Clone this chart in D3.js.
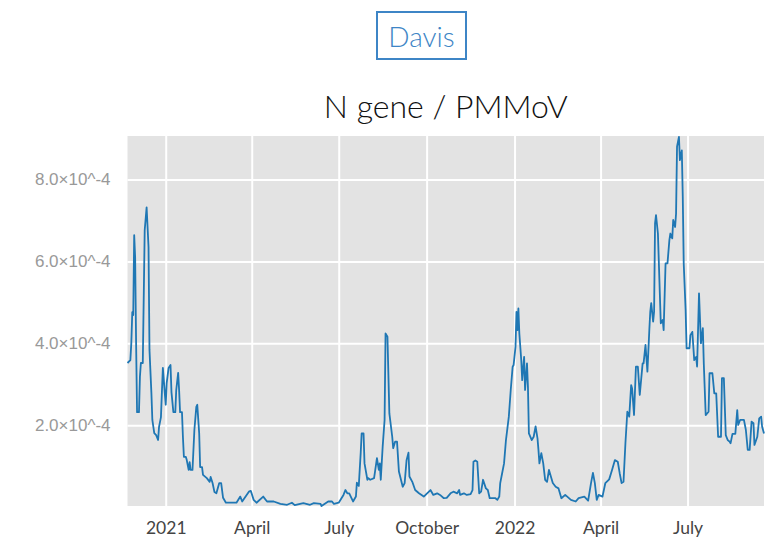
<!DOCTYPE html>
<html>
<head>
<meta charset="utf-8">
<script src="https://cdn.jsdelivr.net/npm/d3@7"></script>
<style>
    body { margin: 0; background: #fff; }
    #chart { width: 774px; height: 539px; position: relative; }
    .site-btn {
        position: absolute; left: 376px; top: 11px; width: 87px; height: 45px;
        border: 2px solid #3d85c6; color: #3d85c6;
        font-family: Lato, "Open Sans", sans-serif; font-size: 28px; font-weight: 300;
        display: flex; align-items: center; justify-content: center;
    }
    .grid line { stroke: #fff; stroke-width: 2; }
</style>
</head>
<body>
<div id="chart"><div class="site-btn">Davis</div></div>
<script>
// days since 2021-01-01, and N gene / PMMoV ratio in units of 1e-4
const baseDate = new Date(2021, 0, 1);
const dayOffsets = [
    -40, -37, -36, -35, -34, -33, -32, -31, -30, -28, -27, -26, -24, -22, -20, -18, -17, -15, -14, -12,
    -10, -8, -7, -5, -4, -3, -1, 0, 1, 3, 5, 6, 8, 10, 11, 13, 14, 15, 17, 18,
    19, 21, 22, 24, 25, 26, 28, 30, 32, 33, 35, 36, 38, 39, 43, 46, 47, 49, 51, 53,
    56, 58, 60, 63, 74, 78, 80, 87, 89, 92, 95, 102, 106, 113, 120, 127, 132, 135, 144, 151,
    155, 162, 163, 170, 174, 176, 181, 186, 188, 190, 192, 196, 199, 200, 202, 204, 205, 207, 208, 211,
    212, 214, 218, 219, 221, 223, 224, 225, 227, 229, 230, 232, 234, 237, 238, 240, 242, 244, 248, 250,
    252, 254, 255, 258, 261, 265, 270, 277, 280, 284, 287, 291, 294, 298, 301, 305, 307, 308, 312, 315,
    319, 321, 322, 324, 326, 328, 330, 332, 335, 337, 339, 345, 347, 349, 350, 352, 354, 356, 359, 361,
    363, 364, 366, 367, 368, 369, 370, 372, 373, 375, 376, 378, 379, 380, 383, 385, 387, 389, 390, 391,
    393, 395, 397, 399, 401, 403, 405, 408, 411, 414, 418, 424, 429, 432, 438, 442, 445, 447, 449, 451,
    453, 457, 460, 464, 467, 470, 473, 475, 477, 479, 481, 483, 485, 487, 488, 490, 492, 494, 496, 499,
    500, 502, 504, 506, 507, 508, 510, 511, 512, 513, 515, 518, 520, 521, 523, 525, 527, 528, 530, 531,
    533, 534, 535, 537, 538, 540, 541, 542, 544, 545, 548, 549, 551, 553, 555, 556, 558, 560, 562, 563,
    565, 568, 569, 572, 574, 576, 578, 581, 582, 584, 586, 588, 590, 591, 593, 596, 598, 599, 601, 605,
    607, 609, 611, 613, 615, 616, 619, 621, 623, 624, 626
];
const ratioValues = [
    3.52, 3.59, 4.01, 4.76, 4.69, 6.64, 6.10, 4.01, 2.32, 2.32, 3.18, 3.52, 3.52, 6.76, 7.32, 6.35, 3.84, 2.79, 2.13, 1.81,
    1.76, 1.64, 1.96, 2.20, 2.81, 3.40, 2.79, 2.50, 3.03, 3.40, 3.47, 2.81, 2.32, 2.32, 2.86, 3.28, 2.86, 2.32, 2.32, 1.71,
    1.23, 1.23, 1.15, 0.91, 1.10, 0.91, 0.91, 1.89, 2.45, 2.50, 1.81, 0.98, 0.98, 0.79, 0.71, 0.62, 0.74, 0.59, 0.37, 0.34,
    0.59, 0.59, 0.23, 0.11, 0.11, 0.26, 0.14, 0.38, 0.40, 0.18, 0.11, 0.26, 0.14, 0.14, 0.08, 0.06, 0.11, 0.05, 0.10, 0.06,
    0.10, 0.08, 0.03, 0.14, 0.14, 0.08, 0.11, 0.30, 0.42, 0.34, 0.34, 0.14, 0.26, 0.60, 0.52, 1.32, 1.80, 1.80, 1.07, 0.67,
    0.71, 0.67, 0.71, 0.87, 1.20, 0.91, 1.07, 0.67, 1.48, 2.13, 4.24, 4.16, 2.29, 1.72, 1.44, 1.60, 1.60, 0.87, 0.50, 0.59,
    1.15, 1.33, 0.75, 0.62, 0.42, 0.34, 0.26, 0.42, 0.30, 0.34, 0.30, 0.22, 0.23, 0.34, 0.38, 0.34, 0.42, 0.30, 0.34, 0.30,
    0.32, 0.42, 1.11, 1.14, 1.11, 0.34, 0.38, 0.67, 0.46, 0.42, 0.22, 0.22, 0.18, 0.26, 0.59, 0.83, 1.07, 1.64, 2.21, 2.86,
    3.43, 3.47, 3.92, 4.77, 4.32, 4.85, 4.24, 3.59, 3.10, 3.67, 2.86, 3.51, 2.94, 1.80, 1.64, 1.72, 1.97, 1.68, 1.40, 1.07,
    1.32, 1.07, 0.67, 0.62, 0.91, 0.75, 0.59, 0.50, 0.46, 0.22, 0.30, 0.18, 0.14, 0.22, 0.26, 0.16, 0.59, 0.84, 0.59, 0.18,
    0.30, 0.26, 0.59, 0.68, 0.91, 1.15, 1.11, 0.83, 0.59, 0.62, 1.56, 2.33, 2.21, 2.98, 2.90, 2.25, 3.43, 3.43, 2.74, 3.51,
    3.51, 3.96, 3.31, 4.32, 4.77, 4.98, 4.53, 4.77, 6.93, 7.13, 6.68, 4.49, 4.57, 4.32, 5.95, 5.95, 6.52, 6.68, 6.56, 7.01,
    6.84, 7.17, 8.80, 9.04, 8.47, 8.71, 7.58, 5.95, 4.81, 3.88, 3.88, 4.20, 4.28, 3.59, 3.67, 3.43, 5.22, 4.00, 4.37, 3.51,
    2.25, 2.33, 3.27, 3.27, 2.78, 2.78, 1.72, 1.72, 3.15, 3.15, 1.76, 1.64, 1.60, 1.56, 1.79, 1.79, 2.37, 2.01, 2.13, 2.13,
    1.89, 1.40, 1.40, 2.09, 2.05, 1.52, 1.72, 2.17, 2.21, 1.97, 1.80
];
const unit = 1e-4;
const yTicks = [2e-4, 4e-4, 6e-4, 8e-4];
const xTicks = ['2021-01-01', '2021-04-01', '2021-07-01', '2021-10-01', '2022-01-01', '2022-04-01', '2022-07-01'];
const xTickLabels = ['2021', 'April', 'July', 'October', '2022', 'April', 'July'];

const data = dayOffsets.map((d, i) => ({
    date: d3.timeDay.offset(baseDate, d),
    value: ratioValues[i] * unit
}));

const width = 774, height = 539;
const margin = { top: 136, right: 10, bottom: 33, left: 127.5 };
const w = width - margin.left - margin.right;
const h = height - margin.top - margin.bottom;

const svg = d3.select('#chart')
    .append('svg')
    .attr('width', width)
    .attr('height', height);

svg.append('text')
    .attr('x', margin.left + w / 2)
    .attr('y', 118)
    .attr('text-anchor', 'middle')
    .style('font-family', 'Lato, "Open Sans", sans-serif')
    .style('font-weight', 300)
    .style('font-size', '32px')
    .style('fill', '#111')
    .text('N gene / PMMoV');

const g = svg.append('g')
    .attr('transform', `translate(${margin.left},${margin.top})`);

g.append('rect')
    .attr('width', w)
    .attr('height', h)
    .attr('fill', '#e3e3e3');

const x = d3.scaleTime()
    .domain(d3.extent(data, d => d.date))
    .range([0, w]);

const y = d3.scaleLinear()
    .domain([0.03e-4, 9.06e-4])
    .range([h, 0]);

const xTickDates = xTicks.map(s => d3.timeParse('%Y-%m-%d')(s));

g.append('g')
    .attr('class', 'grid')
    .call(d3.axisBottom(x).tickValues(xTickDates).tickSize(h).tickFormat(''))
    .call(a => a.select('.domain').remove());

g.append('g')
    .attr('class', 'grid')
    .call(d3.axisLeft(y).tickValues(yTicks).tickSize(-w).tickFormat(''))
    .call(a => a.select('.domain').remove());

const line = d3.line()
    .x(d => x(d.date))
    .y(d => y(d.value));

g.append('path')
    .datum(data)
    .attr('fill', 'none')
    .attr('stroke', '#1f77b4')
    .attr('stroke-width', 1.8)
    .attr('stroke-linejoin', 'round')
    .attr('d', line);

g.append('g')
    .attr('transform', `translate(0,${h})`)
    .call(d3.axisBottom(x).tickValues(xTickDates).tickSize(0).tickPadding(16)
        .tickFormat((d, i) => xTickLabels[i]))
    .call(a => a.select('.domain').remove())
    .selectAll('text')
    .style('font-family', 'Lato, "Open Sans", sans-serif')
    .style('font-size', '17.5px')
    .style('fill', '#444');

g.append('g')
    .call(d3.axisLeft(y).tickValues(yTicks).tickSize(0).tickPadding(17)
        .tickFormat(d => `${(d / unit).toFixed(1)}×10^-4`))
    .call(a => a.select('.domain').remove())
    .selectAll('text')
    .style('font-family', '"Liberation Sans", Arial, sans-serif')
    .style('font-size', '17px')
    .style('fill', '#999');
</script>
</body>
</html>
